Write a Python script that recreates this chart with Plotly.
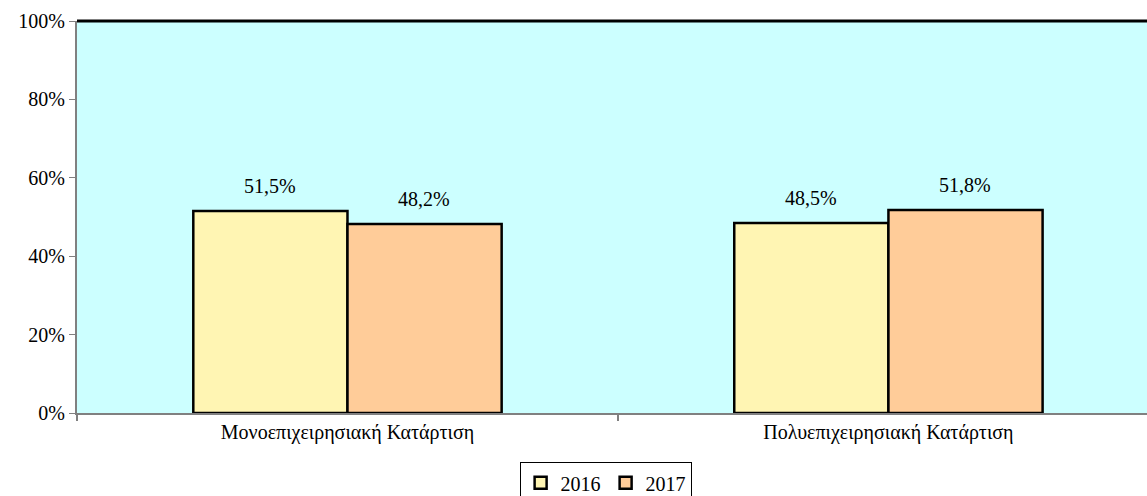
import plotly.graph_objects as go

categories = ["Μονοεπιχειρησιακή Κατάρτιση", "Πολυεπιχειρησιακή Κατάρτιση"]
share_2016 = [0.515, 0.485]
share_2017 = [0.482, 0.518]
y_ticks = [0, 0.2, 0.4, 0.6, 0.8, 1.0]

font = dict(family="Liberation Serif, Times New Roman, serif", size=20, color="black")

fig = go.Figure()
fig.add_trace(go.Bar(
    x=categories, y=share_2016, name="2016",
    marker=dict(color="#FFF5B3", line=dict(color="black", width=2.5)),
))
fig.add_trace(go.Bar(
    x=categories, y=share_2017, name="2017",
    marker=dict(color="#FFCC99", line=dict(color="black", width=2.5)),
))

# value labels above each bar (left bar of group -> 2016, right -> 2017)
for values, shift in ((share_2016, -77), (share_2017, 77)):
    for cat, v in zip(categories, values):
        fig.add_annotation(
            x=cat, y=v, xshift=shift, yshift=12, yanchor="bottom",
            text=f"{v * 100:.1f}%".replace(".", ","), showarrow=False,
            font=dict(size=20),
        )

fig.update_layout(
    width=1147, height=496,
    margin=dict(l=77, r=0, t=21, b=83),
    paper_bgcolor="white", plot_bgcolor="#CCFFFF",
    font=font, separators=",.",
    barmode="group", bargap=0.43, bargroupgap=0,
    showlegend=True,
    legend=dict(
        orientation="h", xref="container", yref="container",
        x=0.528, xanchor="center", y=0.068, yanchor="top",
        bordercolor="black", borderwidth=1, bgcolor="white",
        font=dict(size=20), itemwidth=30, traceorder="normal",
    ),
)
fig.update_xaxes(
    range=[-0.5, 1.478], showgrid=False, showline=True, automargin=False,
    linecolor="#808080", linewidth=2, ticks="outside", tickson="boundaries",
    ticklen=6, tickcolor="#808080", tickwidth=2,
)
fig.update_yaxes(
    range=[0, 1], tickvals=y_ticks, tickformat=".0%", showgrid=False,
    showline=True, linecolor="#808080", linewidth=2, ticks="outside",
    ticklen=6, tickcolor="#808080", tickwidth=1, zeroline=False, automargin=False,
)
fig.add_shape(type="line", xref="paper", yref="paper", x0=0, x1=1, y0=1, y1=1,
              line=dict(color="black", width=3))

# drop the browser's default 8px body margin so the figure fills the window
fig.write_html("out.html", config={"displayModeBar": False},
               post_script="document.body.style.margin='0';")
